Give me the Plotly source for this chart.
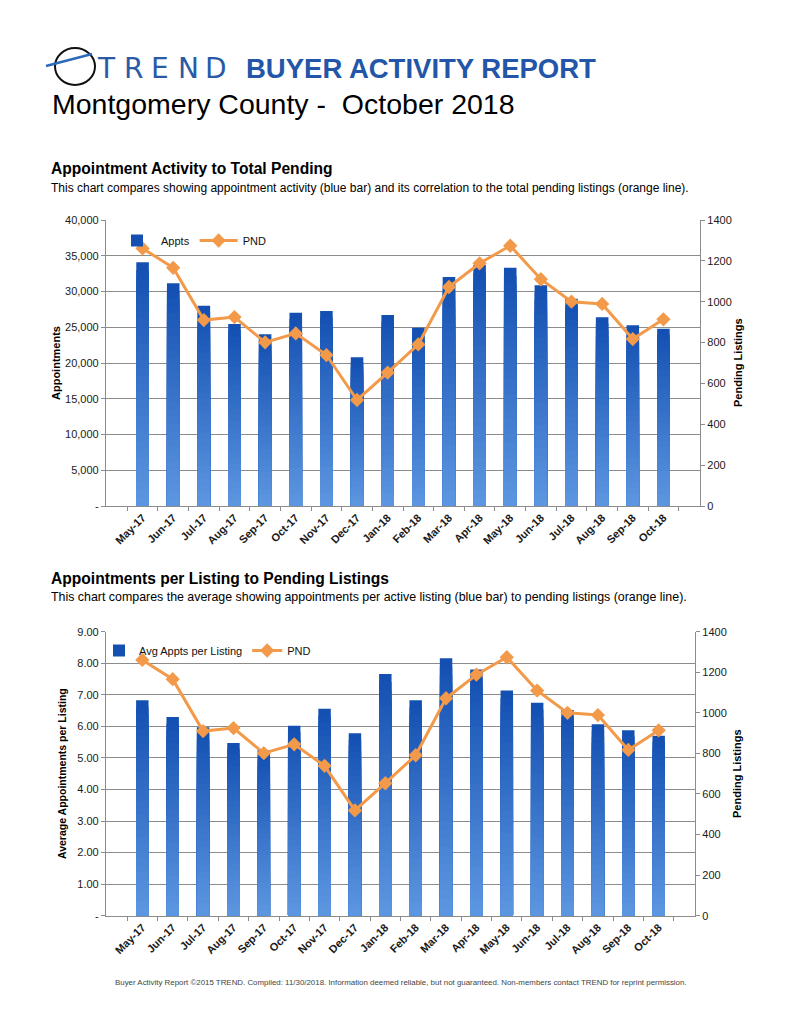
import plotly.graph_objects as go

W, H = 800, 1035

months = ["May-17", "Jun-17", "Jul-17", "Aug-17", "Sep-17", "Oct-17", "Nov-17", "Dec-17", "Jan-18",
          "Feb-18", "Mar-18", "Apr-18", "May-18", "Jun-18", "Jul-18", "Aug-18", "Sep-18", "Oct-18"]
appts = [34100, 31150, 28020, 25450, 24010, 27040, 27270, 20800, 26710,
         24940, 32030, 33710, 33330, 30860, 28990, 26390, 25270, 24800]
pnd = [1261, 1166, 910, 925, 801, 845, 739, 519, 653,
       791, 1072, 1188, 1274, 1110, 1000, 989, 817, 914]
avg_appts = [6.83, 6.30, 5.97, 5.47, 5.25, 6.02, 6.56, 5.78, 7.66,
             6.83, 8.16, 7.80, 7.14, 6.75, 6.52, 6.07, 5.88, 5.70]

y1_ticks = [0, 5000, 10000, 15000, 20000, 25000, 30000, 35000, 40000]
y1_text = ["-", "5,000", "10,000", "15,000", "20,000", "25,000", "30,000", "35,000", "40,000"]
y3_ticks = [0, 1, 2, 3, 4, 5, 6, 7, 8, 9]
y3_text = ["-", "1.00", "2.00", "3.00", "4.00", "5.00", "6.00", "7.00", "8.00", "9.00"]
pnd_ticks = [0, 200, 400, 600, 800, 1000, 1200, 1400]

FONT = "Liberation Sans, Arial, sans-serif"
ORANGE = "#F29A4A"
GRID = "#8C8C8C"
DARK = (20, 80, 178)
LIGHT = (92, 150, 224)


def px_x(x):
    return x / W


def px_y(y):
    return 1 - y / H


def mix(t):
    c = [round(DARK[i] + (LIGHT[i] - DARK[i]) * t) for i in range(3)]
    return "rgb(%d,%d,%d)" % tuple(c)


fig = go.Figure()

N = 30


def add_gradient_bars(values, xa, ya, name, legend):
    for k in range(N):
        frac = 1 - k / N
        fig.add_trace(go.Bar(
            x=months, y=[v * frac for v in values], xaxis=xa, yaxis=ya,
            marker=dict(color=mix(k / (N - 1)), line=dict(width=0)),
            width=0.41, name=name, showlegend=(k == 0), legend=legend,
            hoverinfo="skip"))


def add_line(xa, ya, legend):
    fig.add_trace(go.Scatter(
        x=months, y=pnd, xaxis=xa, yaxis=ya, mode="lines+markers", name="PND",
        line=dict(color=ORANGE, width=3),
        marker=dict(symbol="diamond", size=11, color=ORANGE),
        legend=legend))


add_gradient_bars(appts, "x", "y", "Appts", "legend")
add_line("x", "y2", "legend")
add_gradient_bars(avg_appts, "x2", "y3", "Avg Appts per Listing", "legend2")
add_line("x2", "y4", "legend2")

tickfont = dict(family=FONT, size=11, color="#1a1a1a")
xtickfont = dict(family=FONT, size=11, color="#1a1a1a", weight="bold")

common_x = dict(type="category", tickangle=-45, tickfont=xtickfont, showline=True,
                linecolor=GRID, linewidth=1.2, ticks="outside", tickson="boundaries",
                ticklen=4, tickcolor=GRID, showgrid=False, fixedrange=True, automargin=False)
common_yl = dict(showgrid=True, gridcolor=GRID, gridwidth=1.2, showline=True, linecolor=GRID,
                 linewidth=1.2, ticks="outside", ticklen=4, tickcolor=GRID, tickfont=tickfont,
                 zeroline=False, automargin=False)
common_yr = dict(side="right", showgrid=False, showline=True, linecolor=GRID, linewidth=1.2,
                 ticks="outside", ticklen=4, tickcolor=GRID, tickfont=tickfont, zeroline=False,
                 tickmode="array", tickvals=pnd_ticks, range=[0, 1400], automargin=False)

d1y = [px_y(506), px_y(220)]
d2y = [px_y(915.7), px_y(631.7)]

fig.update_layout(
    template="none",
    width=W, height=H, margin=dict(l=0, r=0, t=0, b=0, autoexpand=False),
    paper_bgcolor="white", plot_bgcolor="white",
    barmode="overlay", bargap=0.59,
    font=dict(family=FONT, color="#000"),
    xaxis=dict(domain=[px_x(106), px_x(700)], anchor="y", **common_x),
    yaxis=dict(domain=d1y, anchor="x", range=[0, 40000], tickmode="array",
               tickvals=y1_ticks, ticktext=y1_text, **common_yl),
    yaxis2=dict(overlaying="y", anchor="x", **common_yr),
    xaxis2=dict(domain=[px_x(106), px_x(695)], anchor="y3", **common_x),
    yaxis3=dict(domain=d2y, anchor="x2", range=[0, 9], tickmode="array",
                tickvals=y3_ticks, ticktext=y3_text, **common_yl),
    yaxis4=dict(overlaying="y3", anchor="x2", **common_yr),
    legend=dict(orientation="h", x=px_x(113), y=px_y(226), xanchor="left", yanchor="top",
                bgcolor="rgba(0,0,0,0)", font=dict(family=FONT, size=11, color="#111"),
                itemwidth=38, tracegroupgap=0),
    legend2=dict(orientation="h", x=px_x(99), y=px_y(636), xanchor="left", yanchor="top",
                 bgcolor="rgba(0,0,0,0)", font=dict(family=FONT, size=11, color="#111"),
                 itemwidth=30, tracegroupgap=0),
    showlegend=True,
)

ann = []


def text(x, y, s, size, color="#000", bold=False, anchor="left", angle=0, family=FONT):
    f = dict(family=family, size=size, color=color)
    if bold:
        f["weight"] = "bold"
    ann.append(dict(x=px_x(x), y=px_y(y), xref="paper", yref="paper", text=s, showarrow=False,
                    xanchor=anchor, yanchor="middle", font=f, textangle=angle))


# Header
for letter, cx in zip("TREND", [106, 133, 160, 188, 216]):
    text(cx, 69, letter, 28, color="#2A5AA6", anchor="center", family="DejaVu Sans, sans-serif")
text(244, 69, "BUYER ACTIVITY REPORT", 27.5, color="#2356A8", bold=True)
text(50, 104, "Montgomery County -  October 2018", 28.5)

# Section 1
text(49, 168, "Appointment Activity to Total Pending", 15.6, bold=True)
text(49, 188, "This chart compares showing appointment activity (blue bar) and its correlation to the total pending listings (orange line).", 12)
text(56, 363, "Appointments", 11, bold=True, anchor="center", angle=-90)
text(738, 363, "Pending Listings", 11, bold=True, anchor="center", angle=-90)

# Section 2
text(49, 578, "Appointments per Listing to Pending Listings", 15.6, bold=True)
text(49, 597, "This chart compares the average showing appointments per active listing (blue bar) to pending listings (orange line).", 12.4)
text(62, 774, "Average Appointments per Listing", 10.5, bold=True, anchor="center", angle=-90)
text(737, 774, "Pending Listings", 11, bold=True, anchor="center", angle=-90)

# Footer
text(401, 982, "Buyer Activity Report \u00a92015 TREND. Compiled: 11/30/2018. Information deemed reliable, but not guaranteed. Non-members contact TREND for reprint permission.", 7.9, color="#444", anchor="center")

fig.update_layout(annotations=ann)

# Logo ornaments
shapes = [
    dict(type="circle", xref="paper", yref="paper", x0=px_x(55), x1=px_x(95), y0=px_y(85), y1=px_y(48),
         line=dict(color="#111", width=2)),
    dict(type="line", xref="paper", yref="paper", x0=px_x(46), y0=px_y(66), x1=px_x(92), y1=px_y(54),
         line=dict(color="#2A6AB8", width=2.5)),
]
fig.update_layout(shapes=shapes)

fig.write_html("out.html", config={"displayModeBar": False},
               post_script="document.body.style.margin='0';document.body.style.overflow='hidden';")
